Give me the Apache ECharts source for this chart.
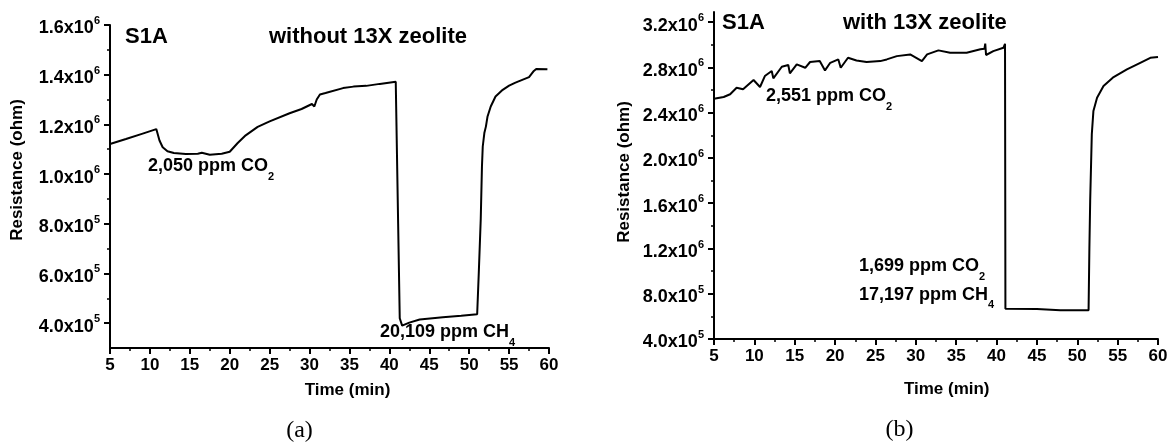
<!DOCTYPE html>
<html>
<head>
<meta charset="utf-8">
<script src="https://cdn.jsdelivr.net/npm/echarts@6/dist/echarts.min.js"></script>
<style>
html,body{margin:0;padding:0;background:#fff;}
#chart{width:1171px;height:448px;}
</style>
</head>
<body>
<div id="chart"></div>
<script>
// ---- data (a): without 13X zeolite ----
const timeA = [5.0, 7.0, 9.0, 10.8, 11.2, 11.6, 12.2, 13.0, 14.5, 16.0, 16.5, 17.5, 19.0, 20.0, 21.0, 22.0, 23.5, 25.0, 27.5, 29.0, 30.3, 30.6, 30.9, 31.3, 32.0, 34.2, 35.5, 37.1, 38.8, 40.8, 41.0, 41.1, 41.3, 41.6, 42.5, 43.8, 46.7, 49.0, 51.0, 51.2, 51.45, 51.6, 51.7, 51.9, 52.1, 52.3, 52.7, 53.3, 54.2, 55.0, 55.8, 57.5, 58.1, 58.4, 59.8];
const resA = [1.121e6, 1.141e6, 1.162e6, 1.181e6, 1.135e6, 1.108e6, 1.092e6, 1.085e6, 1.081e6, 1.082e6, 1.086e6, 1.078e6, 1.082e6, 1.090e6, 1.125e6, 1.156e6, 1.190e6, 1.212e6, 1.245e6, 1.262e6, 1.282e6, 1.272e6, 1.300e6, 1.320e6, 1.326e6, 1.346e6, 1.352e6, 1.355e6, 1.363e6, 1.372e6, 1.375e6, 0.80e6, 0.42e6, 0.390e6, 0.402e6, 0.415e6, 0.424e6, 0.430e6, 0.436e6, 0.60e6, 0.82e6, 1.03e6, 1.111e6, 1.165e6, 1.192e6, 1.232e6, 1.272e6, 1.312e6, 1.339e6, 1.356e6, 1.368e6, 1.390e6, 1.415e6, 1.423e6, 1.422e6];

// ---- data (b): with 13X zeolite ----
const timeB = [5.0, 6.2, 7.0, 7.8, 8.6, 9.9, 10.7, 11.3, 12.15, 12.35, 13.4, 14.2, 14.4, 15.25, 16.3, 16.9, 18.1, 18.75, 19.4, 20.4, 20.7, 21.6, 22.65, 23.9, 25.6, 26.4, 27.65, 29.3, 30.75, 31.4, 32.8, 34.25, 36.3, 38.0, 38.5, 38.6, 38.7, 39.6, 40.85, 41.05, 41.1, 45.0, 47.9, 51.4, 51.5, 51.6, 51.8, 52.0, 52.45, 53.25, 54.5, 56.15, 57.8, 59.05, 60.0];
const resB = [2.524e6, 2.539e6, 2.563e6, 2.621e6, 2.607e6, 2.689e6, 2.627e6, 2.724e6, 2.768e6, 2.704e6, 2.806e6, 2.821e6, 2.748e6, 2.827e6, 2.797e6, 2.848e6, 2.856e6, 2.774e6, 2.841e6, 2.871e6, 2.797e6, 2.886e6, 2.862e6, 2.848e6, 2.856e6, 2.871e6, 2.900e6, 2.915e6, 2.856e6, 2.915e6, 2.951e6, 2.930e6, 2.930e6, 2.960e6, 2.965e6, 3.010e6, 2.910e6, 2.944e6, 2.974e6, 3.009e6, 0.668e6, 0.665e6, 0.654e6, 0.654e6, 1.20e6, 1.623e6, 2.210e6, 2.416e6, 2.533e6, 2.636e6, 2.715e6, 2.783e6, 2.841e6, 2.885e6, 2.892e6];

// ---- tick values ----
const yTicksA = [4e5, 6e5, 8e5, 1.0e6, 1.2e6, 1.4e6, 1.6e6];
const yMinorA = [5e5, 7e5, 9e5, 1.1e6, 1.3e6, 1.5e6];
const yTicksB = [4e5, 8e5, 1.2e6, 1.6e6, 2.0e6, 2.4e6, 2.8e6, 3.2e6];
const yMinorB = [6e5, 1.0e6, 1.4e6, 1.8e6, 2.2e6, 2.6e6, 3.0e6];

const FF = '"Liberation Sans", Arial, sans-serif';

function sci(v) {
  const e = Math.floor(Math.log10(v) + 1e-9);
  const m = v / Math.pow(10, e);
  return '{m|' + m.toFixed(1) + 'x10}{s|' + e + '}';
}
const supRich = {
  m: {fontFamily: FF, fontWeight: 'bold', fontSize: 18, lineHeight: 18, verticalAlign: 'bottom', color: '#000'},
  s: {fontFamily: FF, fontWeight: 'bold', fontSize: 11, lineHeight: 11, padding: [0, 0, 11, 0], verticalAlign: 'bottom', color: '#000'}
};
const subRich = {
  m: {fontFamily: FF, fontWeight: 'bold', fontSize: 18, lineHeight: 22, verticalAlign: 'top', fill: '#000'},
  s: {fontFamily: FF, fontWeight: 'bold', fontSize: 11, lineHeight: 11, padding: [14, 0, 0, 0], verticalAlign: 'top', fill: '#000'}
};

const axisLineStyle = {color: '#000', width: 2};

function xAxisCfg(gi) {
  return {
    type: 'value', gridIndex: gi, min: 5, max: 60, interval: 5,
    axisLine: {show: true, onZero: false, lineStyle: axisLineStyle},
    axisTick: {show: true, length: 6, lineStyle: {color: '#000', width: 2}},
    minorTick: {show: true, splitNumber: 2, length: 3, lineStyle: {color: '#000', width: 1.5}},
    axisLabel: {margin: 9, color: '#000', fontFamily: FF, fontWeight: 'bold', fontSize: 17},
    splitLine: {show: false}, minorSplitLine: {show: false}
  };
}
function yMainCfg(gi, min, max, ticks) {
  return {
    type: 'value', gridIndex: gi, min: min, max: max, position: 'left',
    axisLine: {show: true, onZero: false, lineStyle: axisLineStyle},
    axisTick: {show: true, length: 6, customValues: ticks, lineStyle: {color: '#000', width: 2}},
    axisLabel: {margin: 10, customValues: ticks, formatter: sci, rich: supRich, padding: [7, 0, 0, 0]},
    splitLine: {show: false}
  };
}
function yMinorCfg(gi, min, max, ticks) {
  return {
    type: 'value', gridIndex: gi, min: min, max: max, position: 'left',
    axisLine: {show: false},
    axisTick: {show: true, length: 3, customValues: ticks, lineStyle: {color: '#000', width: 1.5}},
    axisLabel: {show: false},
    splitLine: {show: false}
  };
}

function pairs(t, v) { return t.map((x, i) => [x, v[i]]); }

function txt(x, y, text, size, align, extra) {
  return Object.assign({
    type: 'text', x: x, y: y, silent: true,
    style: {text: text, fill: '#000', font: 'bold ' + size + 'px ' + FF, align: align || 'left', verticalAlign: 'middle'}
  }, extra || {});
}
function richTxt(x, yc, main, sub) {
  return {
    type: 'text', x: x, y: yc - 11, silent: true,
    style: {text: '{m|' + main + '}{s|' + sub + '}', rich: subRich, align: 'left', verticalAlign: 'top', fill: '#000'}
  };
}

const chart = echarts.init(document.getElementById('chart'), null, {renderer: 'canvas'});
chart.setOption({
  animation: false,
  backgroundColor: '#fff',
  grid: [
    {left: 110, top: 25, width: 439, height: 323, containLabel: false},
    {left: 714, top: 12, width: 444, height: 327, containLabel: false}
  ],
  xAxis: [xAxisCfg(0), xAxisCfg(1)],
  yAxis: [
    yMainCfg(0, 3e5, 1.6e6, yTicksA),
    yMinorCfg(0, 3e5, 1.6e6, yMinorA),
    yMainCfg(1, 4e5, 3.29e6, yTicksB),
    yMinorCfg(1, 4e5, 3.29e6, yMinorB)
  ],
  series: [
    {type: 'line', xAxisIndex: 0, yAxisIndex: 0, data: pairs(timeA, resA), showSymbol: false, symbol: 'none',
     lineStyle: {color: '#000', width: 2}, z: 5},
    {type: 'line', xAxisIndex: 1, yAxisIndex: 2, data: pairs(timeB, resB), showSymbol: false, symbol: 'none',
     lineStyle: {color: '#000', width: 2}, z: 5}
  ],
  graphic: [
    txt(125, 36.5, 'S1A', 22),
    txt(269, 36.5, 'without 13X zeolite', 22),
    richTxt(148, 168.3, '2,050 ppm CO', '2'),
    richTxt(380, 334.5, '20,109 ppm CH', '4'),
    txt(722, 23.3, 'S1A', 22),
    txt(843, 23.3, 'with 13X zeolite', 22),
    richTxt(766, 98.3, '2,551 ppm CO', '2'),
    richTxt(859, 268.5, '1,699 ppm CO', '2'),
    richTxt(859, 296.8, '17,197 ppm CH', '4'),
    txt(347.5, 390, 'Time (min)', 17, 'center'),
    txt(946.7, 389, 'Time (min)', 17, 'center'),
    txt(17.5, 170, 'Resistance (ohm)', 17, 'center', {rotation: Math.PI / 2}),
    txt(624, 172, 'Resistance (ohm)', 17, 'center', {rotation: Math.PI / 2}),
    {type: 'text', x: 299.5, y: 431, silent: true,
     style: {text: '(a)', fill: '#000', font: '24px "Liberation Serif", "Times New Roman", serif', align: 'center', verticalAlign: 'middle'}},
    {type: 'text', x: 899.5, y: 430, silent: true,
     style: {text: '(b)', fill: '#000', font: '24px "Liberation Serif", "Times New Roman", serif', align: 'center', verticalAlign: 'middle'}}
  ]
});
</script>
</body>
</html>
